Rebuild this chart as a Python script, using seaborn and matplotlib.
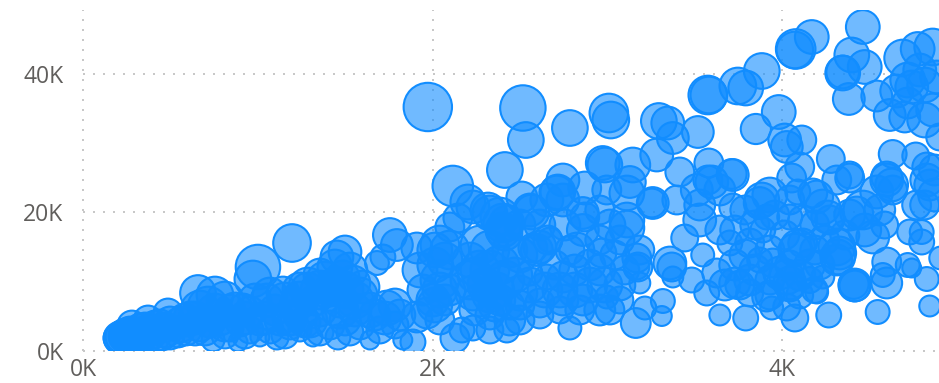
import matplotlib
matplotlib.use("Agg")
import matplotlib.pyplot as plt
import pandas as pd
import seaborn as sns
from matplotlib.colors import to_rgba

# values, ten to a row in all three lists
sales = [
    1973, 2517, 2534, 2786, 3009, 3020, 3295, 3346, 3375, 3518,
    3575, 3581, 3747, 3792, 3884, 4078, 4073, 4170, 4462, 4399,
    4473, 4347, 4347, 4382, 4542, 4690, 4776, 4862, 4719, 4656,
    4742, 4616, 4702, 4719, 4862, 4885, 4902, 3981, 4015, 4113,
    4027, 3850, 4101, 4279, 4387, 4633, 4765, 4828, 4599, 2414,
    2511, 2746, 2974, 2986, 3146, 3129, 3283, 3415, 3581, 3598,
    3575, 3718, 3712, 3512, 3398, 3260, 3255, 3112, 2997, 2871,
    2711, 2746, 2654, 2568, 2402, 2328, 2402, 2231, 2860, 2860,
    2871, 3112, 3112, 3072, 2660, 2597, 2786, 2969, 3169, 3175,
    3186, 3358, 3369, 3375, 3483, 3443, 3546, 3626, 3569, 3729,
    3644, 3792, 4073, 4267, 4547, 4845, 4416, 4416, 4410, 4599,
    4576, 4599, 4719, 4742, 4828, 4799, 4730, 4799, 4908, 4770,
    4627, 4599, 4542, 4462, 4473, 4519, 4387, 4313, 4198, 4233,
    4261, 4055, 4090, 3930, 3884, 3872, 3912, 4118, 4044, 4118,
    4090, 4319, 4313, 3987, 4044, 3947, 3872, 3815, 3890, 3701,
    3644, 3529, 3718, 4187, 4158, 3912, 3815, 4027, 3941, 3163,
    3215, 3318, 3312, 3169, 2786, 4176, 4273, 4427, 4330, 4313,
    4073, 4233, 4198, 4044, 4027, 4828, 4633, 2116, 2202, 2145,
    2099, 2317, 2385, 2425, 2414, 2557, 2717, 2614, 2574, 2671,
    2826, 2128, 2168, 2425, 2231, 2071, 2013, 2099, 2071, 2271,
    2414, 2368, 2231, 2500, 2614, 2746, 2860, 2654, 2557, 2746,
    2997, 2442, 2299, 2328, 2242, 2385, 2500, 1756, 1796, 1910,
    1682, 1716, 1499, 1453, 1441, 1287, 1287, 1144, 1052, 915,
    1785, 1739, 1544, 1602, 1487, 1945, 2002, 1968, 1910, 1888,
    1830, 1642, 1459, 1316, 1241, 1110, 1012, 887, 744, 1470,
    1356, 1241, 1127, 1012, 898, 784, 1556, 1670, 1585, 1413,
    1184, 1070, 955, 841, 1499, 1270, 1585, 1413, 1356, 1441,
    1327, 1213, 1098, 955, 841, 658, 715, 669, 755, 583,
    486, 372, 280, 212, 223, 240, 257, 280, 303, 337,
    372, 412, 452, 498, 543, 589, 641, 698, 412, 326,
    498, 641, 726, 269, 240, 200,
    1001, 972, 1196, 812, 755, 869, 984, 1070, 1155, 1241,
    1241, 1356, 1384, 1499, 1527, 1470, 1556, 1642, 1727, 1813,
    1298, 1184, 1041, 927, 812, 669, 612, 440, 355, 269,
    297, 326, 383, 469, 555, 1356, 1527, 1699, 1785, 1155,
    927, 812, 1928, 2013, 2042, 2099, 2042, 2042, 2013, 2042,
    2214, 2328, 2271, 2442, 2500, 2214, 2328, 2385, 2471, 2557,
    2643, 2729, 2814, 2900, 2986, 3072, 2957, 2814, 2900, 2700,
    2843, 2957, 3015, 2729, 2614, 2500, 2328, 2242, 2357, 2271,
    2442, 2328, 3072, 3100, 3043, 3186, 3015, 2957, 2757, 2500,
    2614, 2957, 3529, 3644, 3787, 3844, 3729, 3787, 3930, 4015,
    3958, 4044, 4187, 4387, 4359, 4244, 4187, 4216, 4101, 4158,
    4044, 3930, 3844, 3729, 3672, 3758, 3815, 3930, 4101, 4559,
    4587, 4816, 4873, 4873, 4845, 4816, 4788, 4816,
]
profit = [
    35234, 35089, 30468, 32201, 34367, 33356, 33212, 32923, 30757, 31624,
    36966, 36966, 38266, 37977, 40432, 43609, 43464, 45342, 46786, 42742,
    41010, 40143, 40288, 36389, 36822, 42309, 43609, 43898, 39132, 37544,
    38122, 34078, 33790, 35811, 34800, 39566, 30902, 34512, 30468, 30468,
    29458, 32057, 26570, 27725, 25414, 28447, 28158, 26570, 25126, 26136,
    22238, 24692, 27147, 26858, 26858, 24404, 28302, 25848, 27147, 24404,
    24692, 25414, 25559, 23248, 21804, 21371, 21371, 22815, 23248, 23537,
    22815, 21804, 21804, 20072, 18483, 19927, 17472, 20794, 19927, 17472,
    19350, 18916, 17761, 16028, 16028, 14584, 14584, 14151, 13429, 12130,
    9819, 12707, 12130, 10686, 10252, 16317, 13862, 11263, 8375, 9819,
    5198, 4765, 4765, 5198, 5632, 6498, 9530, 9386, 9675, 9819,
    10974, 12852, 12418, 11985, 10397, 15740, 17184, 17184, 13429, 21082,
    23970, 24692, 22960, 20360, 17472, 16462, 24981, 24692, 22238, 20794,
    19350, 24981, 22960, 22526, 21804, 21371, 19350, 18916, 19350, 15595,
    15018, 13574, 15018, 11263, 9242, 12707, 13140, 15595, 17472, 15595,
    17472, 18916, 20794, 8808, 10252, 7798, 8375, 6354, 6209, 4043,
    6209, 7220, 5054, 12130, 3321, 22815, 18916, 19927, 14151, 13140,
    14584, 10686, 8520, 9819, 10686, 24692, 23248, 23826, 21516, 19205,
    17906, 20360, 19350, 18483, 17039, 20360, 22960, 15018, 14873, 16028,
    14584, 1877, 3032, 3032, 3321, 13140, 12418, 8808, 7364, 11696,
    10252, 8808, 8375, 8375, 6931, 7364, 7364, 10686, 11263, 10686,
    7798, 4476, 9530, 8086, 10974, 7364, 6642, 16750, 15306, 14873,
    12707, 13574, 14296, 13574, 12130, 9242, 8808, 8375, 7364, 6209,
    6642, 6209, 9819, 9242, 10686, 8808, 7364, 5487, 4910, 1300,
    1588, 1588, 2022, 2022, 3032, 1877, 2022, 1300, 1588, 7364,
    5920, 5198, 4476, 4476, 4188, 4476, 5920, 5198, 3754, 3754,
    3754, 3032, 3032, 3321, 4476, 4188, 8086, 8808, 10974, 9530,
    7364, 6642, 5920, 5632, 5920, 8375, 6354, 5920, 5632, 4476,
    5487, 4476, 3754, 1877, 2022, 2166, 2166, 2166, 2022, 2166,
    2022, 2166, 2310, 2310, 2744, 3032, 3032, 3032, 3754, 3321,
    4188, 4765, 4188, 2744, 2455, 1877,
    12130, 10397, 15595, 7364, 8086, 5920, 7364, 8086, 7364, 8808,
    7364, 8808, 10252, 8808, 11696, 5920, 7364, 5920, 4765, 5198,
    4476, 4765, 4765, 4765, 3754, 3754, 4765, 3754, 3321, 2310,
    2310, 2310, 2744, 3032, 3754, 2744, 2744, 3032, 3754, 2310,
    2310, 2310, 11696, 14584, 15306, 14584, 10252, 8808, 6642, 4476,
    13140, 14584, 15306, 14584, 13862, 10252, 11696, 12418, 10974, 9530,
    8808, 8808, 8808, 9530, 9530, 9530, 11696, 11696, 12418, 12418,
    5920, 5920, 5920, 5920, 5198, 4476, 5198, 5920, 6642, 7364,
    6642, 3032, 7364, 11696, 13862, 14584, 18194, 16028, 18194, 18194,
    18194, 20360, 21082, 23248, 20360, 18194, 17472, 13862, 14584, 16750,
    19638, 21804, 18194, 19638, 16750, 16028, 14584, 12418, 10974, 12418,
    12418, 10252, 11696, 12418, 9530, 9530, 10252, 8086, 8086, 20360,
    18194, 21082, 26136, 22526, 23970, 38410, 40576, 33356,
]
quantity = [
    625, 552, 342, 342, 400, 361, 342, 289, 272, 272,
    400, 361, 361, 324, 342, 420, 361, 306, 306, 324,
    306, 324, 289, 272, 256, 361, 306, 361, 324, 289,
    289, 272, 256, 256, 289, 289, 196, 306, 289, 225,
    272, 246, 225, 210, 196, 210, 196, 225, 256, 342,
    256, 289, 306, 324, 324, 272, 289, 225, 225, 289,
    225, 272, 240, 272, 225, 272, 225, 324, 225, 289,
    324, 289, 289, 324, 400, 324, 324, 289, 272, 272,
    225, 324, 324, 225, 225, 272, 225, 225, 225, 225,
    121, 289, 225, 121, 169, 196, 144, 225, 169, 256,
    121, 169, 196, 169, 156, 121, 289, 256, 240, 256,
    156, 225, 156, 100, 156, 169, 169, 156, 144, 225,
    289, 289, 289, 400, 289, 289, 225, 225, 289, 324,
    289, 225, 169, 324, 324, 272, 169, 225, 169, 225,
    324, 324, 361, 289, 225, 225, 169, 225, 169, 169,
    225, 289, 196, 182, 182, 225, 196, 196, 144, 240,
    144, 156, 110, 169, 144, 225, 225, 289, 289, 256,
    289, 144, 144, 289, 324, 289, 225, 441, 324, 225,
    225, 324, 400, 324, 324, 289, 324, 289, 225, 169,
    324, 225, 169, 169, 169, 324, 324, 256, 256, 400,
    400, 324, 324, 324, 225, 256, 256, 169, 169, 256,
    144, 256, 324, 324, 324, 256, 225, 306, 272, 256,
    156, 169, 289, 289, 324, 400, 324, 289, 289, 225,
    289, 324, 324, 289, 289, 256, 289, 256, 256, 169,
    100, 100, 169, 100, 144, 144, 100, 100, 144, 324,
    289, 289, 256, 256, 225, 256, 289, 256, 225, 225,
    225, 196, 196, 196, 256, 256, 324, 289, 289, 324,
    256, 256, 256, 256, 256, 342, 441, 400, 361, 289,
    225, 225, 225, 289, 289, 289, 289, 289, 256, 256,
    256, 256, 256, 225, 256, 256, 256, 256, 225, 225,
    256, 289, 256, 256, 256, 225,
    529, 361, 380, 361, 361, 324, 289, 324, 324, 324,
    361, 400, 361, 361, 324, 361, 361, 324, 289, 256,
    324, 324, 289, 289, 289, 289, 289, 256, 256, 324,
    324, 324, 324, 324, 324, 196, 196, 196, 196, 196,
    196, 196, 324, 324, 400, 400, 400, 324, 324, 225,
    324, 400, 400, 324, 324, 400, 400, 400, 324, 324,
    324, 324, 324, 324, 324, 256, 256, 256, 256, 225,
    225, 256, 225, 196, 196, 225, 225, 256, 289, 289,
    225, 196, 196, 225, 225, 225, 256, 225, 256, 256,
    256, 225, 256, 256, 225, 225, 225, 256, 225, 225,
    225, 225, 225, 256, 225, 225, 225, 225, 256, 256,
    225, 225, 256, 256, 256, 225, 256, 225, 196, 256,
    196, 225, 256, 289, 256, 324, 289, 324,
]
x_ticks = [0, 2000, 4000]
x_labels = ["0K", "2K", "4K"]
y_ticks = [0, 20000, 40000]
y_labels = ["0K", "20K", "40K"]

blue = "#118DFF"
grey = "#605E5C"

df = pd.DataFrame({"sales": sales, "profit": profit, "quantity": quantity})

sns.set_style("white")
plt.rcParams["font.family"] = ["Open Sans", "DejaVu Sans"]

fig = plt.figure(figsize=(9.39, 3.83), dpi=100)
ax = fig.add_axes([83 / 939, 32 / 383, 856 / 939, 341 / 383])

sns.scatterplot(
    data=df, x="sales", y="profit", size="quantity",
    sizes=(185, 1360), size_norm=(100, 700), legend=False,
    linewidth=1.5, ax=ax,
)
points = ax.collections[0]
points.set_facecolor(to_rgba(blue, 0.6))
points.set_edgecolor(blue)

ax.set_xlim(0, 4898)
ax.set_ylim(0, 49240)
ax.set_xticks(x_ticks, x_labels)
ax.set_yticks(y_ticks, y_labels)
ax.set_xlabel("")
ax.set_ylabel("")
ax.tick_params(axis="both", length=0, labelsize=16.5, labelcolor=grey)
ax.tick_params(axis="x", pad=5)
ax.tick_params(axis="y", pad=14)
ax.set_axisbelow(True)
ax.grid(True, color="#C8C8C8", linewidth=1.44, linestyle=(0, (1, 4)), clip_on=False)
sns.despine(ax=ax, left=True, bottom=True)

fig.savefig("out.png", dpi=100)
